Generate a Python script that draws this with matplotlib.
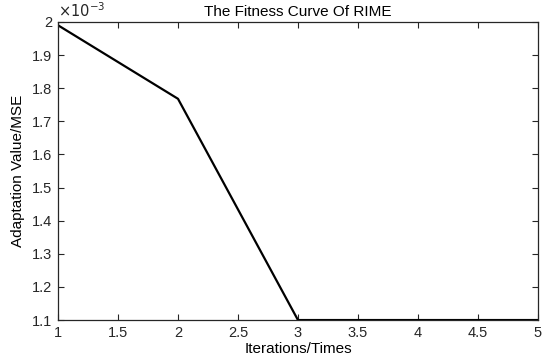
import numpy as np
import matplotlib
matplotlib.use("Agg")
import matplotlib.pyplot as plt
from matplotlib.ticker import FuncFormatter

plt.rcParams['font.family'] = ['Liberation Sans', 'DejaVu Sans']

# fitness values
iters = [1, 2, 3, 4, 5]
fitness = [1.99e-3, 1.768e-3, 1.1e-3, 1.1e-3, 1.1e-3]
xticks = [1, 1.5, 2, 2.5, 3, 3.5, 4, 4.5, 5]
yticks = [1.1e-3, 1.2e-3, 1.3e-3, 1.4e-3, 1.5e-3, 1.6e-3, 1.7e-3, 1.8e-3, 1.9e-3, 2.0e-3]

fig = plt.figure(figsize=(5.5, 3.6), dpi=100)
ax = fig.add_axes([0.1055, 0.111, 0.8725, 0.828])
ax.plot(iters, fitness, color="black", lw=1.6)

ax.set_xlim(1, 5)
ax.set_ylim(1.1e-3, 2.0e-3)
ax.set_xticks(xticks)
ax.set_yticks(yticks)
ax.xaxis.set_major_formatter(FuncFormatter(lambda v, p: f"{v:g}"))
ax.yaxis.set_major_formatter(FuncFormatter(lambda v, p: f"{v*1e3:.1f}".rstrip("0").rstrip(".")))
ax.tick_params(direction="in", length=4, width=0.8, labelsize=10.5, colors="#262626",
               top=True, right=True, pad=4)
for s in ax.spines.values():
    s.set_color("#262626"); s.set_linewidth(0.9)

ax.text(0.0, 1.005, r"$\times10^{-3}$", transform=ax.transAxes, fontsize=10.5,
        ha="left", va="bottom", color="#262626")
ax.set_title("The Fitness Curve Of RIME", fontsize=11, pad=4)
ax.set_xlabel("Iterations/Times", fontsize=11, labelpad=2)
ax.set_ylabel("Adaptation Value/MSE", fontsize=11, labelpad=5)

fig.savefig("out.png", dpi=100)
